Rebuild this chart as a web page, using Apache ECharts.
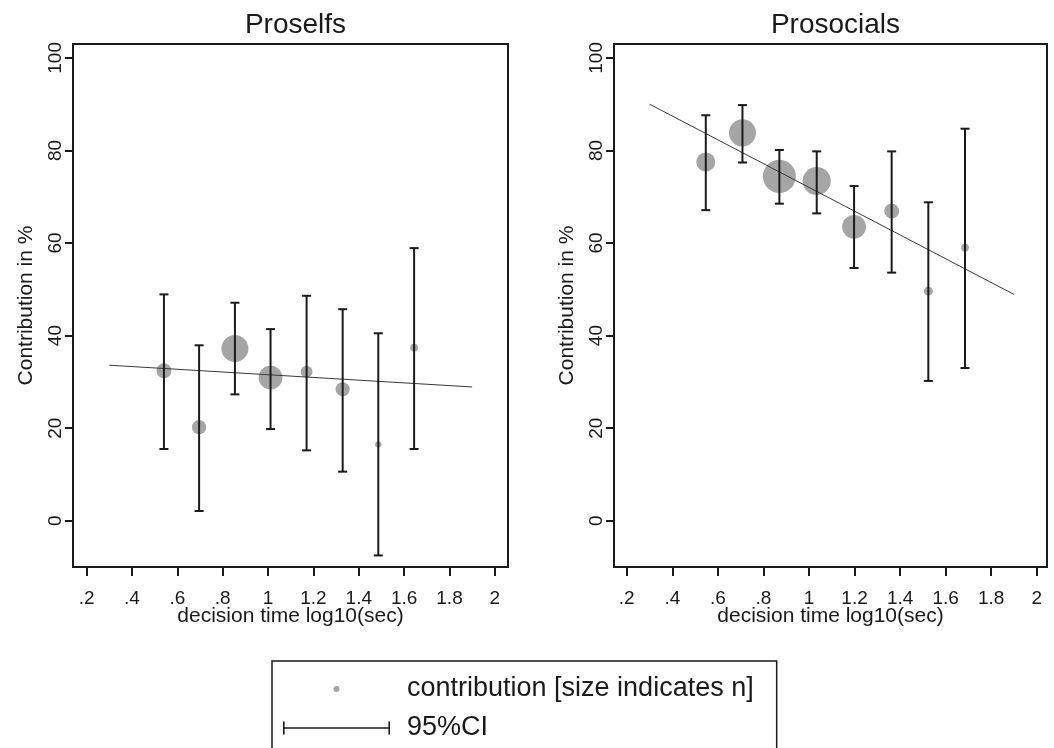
<!DOCTYPE html>
<html>
<head>
<meta charset="utf-8">
<script src="https://cdn.jsdelivr.net/npm/echarts@6/dist/echarts.min.js"></script>
<style>
html,body{margin:0;padding:0;background:#fff;}
#chart{width:1054px;height:748px;}
</style>
</head>
<body>
<div id="chart"></div>
<script>
// ---- data ----
const panelTitles = ['Proselfs', 'Prosocials'];
const xTicks = [0.2, 0.4, 0.6, 0.8, 1, 1.2, 1.4, 1.6, 1.8, 2];
const yTicks = [0, 20, 40, 60, 80, 100];
const xAxisTitle = 'decision time log10(sec)';
const yAxisTitle = 'Contribution in %';
const legendDot = 'contribution [size indicates n]';
const legendCI = '95%CI';

const proselfTime = [0.541, 0.696, 0.854, 1.011, 1.170, 1.329, 1.486, 1.644];
const proselfMean = [32.4, 20.2, 37.2, 30.9, 32.2, 28.4, 16.5, 37.4];
const proselfLow  = [15.5, 2.1, 27.3, 19.8, 15.2, 10.6, -7.5, 15.5];
const proselfHigh = [48.9, 37.9, 47.1, 41.4, 48.6, 45.7, 40.5, 58.9];
const proselfN    = [11, 10, 36, 28, 7, 10, 2, 3];
const proselfFitX = [0.3, 1.9];
const proselfFitY = [33.6, 28.9];

const prosocialTime = [0.547, 0.708, 0.870, 1.034, 1.198, 1.363, 1.524, 1.685];
const prosocialMean = [77.5, 83.8, 74.4, 73.4, 63.5, 66.9, 49.6, 59.0];
const prosocialLow  = [67.1, 77.4, 68.5, 66.4, 54.6, 53.6, 30.2, 33.0];
const prosocialHigh = [87.6, 89.8, 80.1, 79.8, 72.3, 79.8, 68.8, 84.7];
const prosocialN    = [18, 36, 54, 39, 28, 11, 4, 3];
const prosocialFitX = [0.3, 1.9];
const prosocialFitY = [90.0, 48.9];

// ---- styling ----
const FONT = '"Liberation Sans", Arial, Helvetica, sans-serif';
const INK = '#1a1a1a';
const DOT = '#a5a5a5';

const panels = [
  {time: proselfTime, mean: proselfMean, low: proselfLow, high: proselfHigh, n: proselfN, fx: proselfFitX, fy: proselfFitY,
   grid: {left: 73, top: 44, width: 435, height: 523}, xmin: 0.14, xmax: 2.058},
  {time: prosocialTime, mean: prosocialMean, low: prosocialLow, high: prosocialHigh, n: prosocialN, fx: prosocialFitX, fy: prosocialFitY,
   grid: {left: 614, top: 44, width: 433, height: 523}, xmin: 0.144, xmax: 2.045}
];

const grids = [], xAxes = [], yAxes = [], series = [], titles = [];
panels.forEach((p, i) => {
  grids.push(Object.assign({show: true, borderColor: INK, borderWidth: 2, backgroundColor: '#fff'}, p.grid));
  titles.push({
    text: panelTitles[i],
    left: p.grid.left + p.grid.width / 2,
    top: 6,
    textAlign: 'center',
    textStyle: {fontFamily: FONT, fontSize: 28, fontWeight: 'normal', color: INK}
  });
  xAxes.push({
    type: 'value', gridIndex: i, min: p.xmin, max: p.xmax,
    name: xAxisTitle, nameLocation: 'middle', nameGap: 39, nameMoveOverlap: false,
    nameTextStyle: {fontFamily: FONT, fontSize: 21, color: INK},
    axisLine: {show: true, onZero: false, lineStyle: {color: INK, width: 2}},
    axisTick: {show: true, length: 9, lineStyle: {color: INK, width: 2}, customValues: xTicks},
    axisLabel: {fontFamily: FONT, fontSize: 19, color: INK, margin: 22, customValues: xTicks,
      formatter: v => String(v).replace(/^0\./, '.')},
    splitLine: {show: false}
  });
  yAxes.push({
    type: 'value', gridIndex: i, min: -10, max: 103,
    name: yAxisTitle, nameLocation: 'middle', nameGap: 36, nameMoveOverlap: false,
    nameTextStyle: {fontFamily: FONT, fontSize: 21, color: INK},
    axisLine: {show: true, onZero: false, lineStyle: {color: INK, width: 2}},
    axisTick: {show: true, length: 8, lineStyle: {color: INK, width: 2}, customValues: yTicks},
    axisLabel: {fontFamily: FONT, fontSize: 19, color: INK, margin: 8, rotate: 90, customValues: yTicks},
    splitLine: {show: false}
  });
  series.push({
    name: legendDot, type: 'scatter', xAxisIndex: i, yAxisIndex: i, z: 2,
    data: p.time.map((t, k) => [t, p.mean[k], p.n[k]]),
    symbol: 'circle',
    symbolSize: v => 4.5 * Math.sqrt(v[2]),
    itemStyle: {color: DOT, opacity: 1},
    emphasis: {disabled: true}
  });
  series.push({
    name: 'fit' + i, type: 'line', xAxisIndex: i, yAxisIndex: i, z: 3,
    data: p.fx.map((x, k) => [x, p.fy[k]]),
    symbol: 'none',
    lineStyle: {color: '#3a3a3a', width: 1},
    emphasis: {disabled: true}
  });
  series.push({
    name: legendCI, type: 'custom', xAxisIndex: i, yAxisIndex: i, z: 4,
    data: p.time.map((t, k) => [t, p.low[k], p.high[k]]),
    encode: {x: 0, y: [1, 2]},
    itemStyle: {color: INK},
    renderItem: function (params, api) {
      const x = api.value(0);
      const lo = api.coord([x, api.value(1)]);
      const hi = api.coord([x, api.value(2)]);
      const hw = 4.5;
      const st = {stroke: INK, lineWidth: 2, fill: null};
      return {type: 'group', children: [
        {type: 'line', shape: {x1: lo[0], y1: lo[1], x2: hi[0], y2: hi[1]}, style: st},
        {type: 'line', shape: {x1: lo[0] - hw, y1: lo[1], x2: lo[0] + hw, y2: lo[1]}, style: st},
        {type: 'line', shape: {x1: hi[0] - hw, y1: hi[1], x2: hi[0] + hw, y2: hi[1]}, style: st}
      ]};
    }
  });
});

// legend icons: key area 119 x 13
const dotIcon = 'path://M0 0 M119 13 M56.5 6.5 A3 3 0 1 1 50.5 6.5 A3 3 0 1 1 56.5 6.5 Z';
const ciIcon = 'path://M0 5.8 L107 5.8 L107 7.2 L0 7.2 Z M0 0 L1.6 0 L1.6 13 L0 13 Z M105.4 0 L107 0 L107 13 L105.4 13 Z M119 13';

const option = {
  animation: false,
  backgroundColor: '#fff',
  title: titles,
  grid: grids,
  xAxis: xAxes,
  yAxis: yAxes,
  legend: {
    orient: 'vertical', left: 272, top: 661,
    width: 600, height: 200,
    padding: [13, 23, 60, 11],
    itemWidth: 119, itemHeight: 13, itemGap: 9,
    borderColor: INK, borderWidth: 1.5, backgroundColor: '#fff',
    selectedMode: false,
    textStyle: {fontFamily: FONT, fontSize: 27, color: INK, lineHeight: 30},
    data: [
      {name: legendDot, icon: dotIcon, itemStyle: {color: DOT}},
      {name: legendCI, icon: ciIcon, itemStyle: {color: INK}}
    ]
  },
  series: series
};

const chart = echarts.init(document.getElementById('chart'), null, {renderer: 'canvas'});
chart.setOption(option);
</script>
</body>
</html>
